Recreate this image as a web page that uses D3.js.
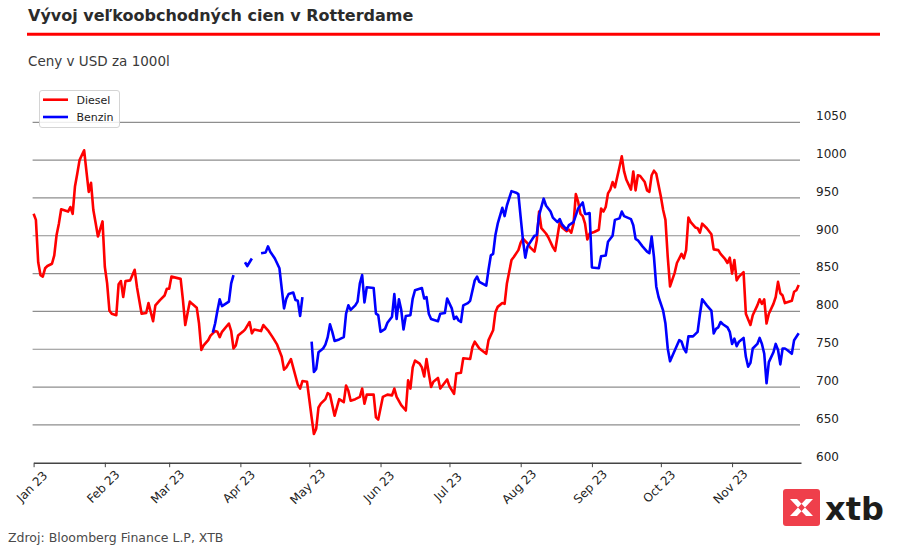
<!DOCTYPE html>
<html>
<head>
<meta charset="utf-8">
<script src="https://cdn.jsdelivr.net/npm/d3@7"></script>
<style>
  body { margin: 0; background: #fff; }
  svg { display: block; font-family: "DejaVu Sans", sans-serif; }
</style>
</head>
<body>
<div id="chart"></div>
<script>
// day of year 2023 (1 = 1 Jan), price in USD per 1000 l
const dieselDay = [1,2,3,4,5,6,7,9,10,11,12,13,15,16,17,18,19,20,21,23,24,25,26,27,28,29,31,32,33,34,35,37,38,39,40,41,43,45,46,48,50,51,53,54,56,58,59,60,61,65,66,67,69,70,72,73,74,75,77,78,80,81,82,83,86,87,88,89,90,92,93,95,96,97,100,101,103,105,107,109,110,111,113,116,117,118,120,122,123,124,125,126,128,129,130,132,133,134,136,137,138,139,141,143,144,145,146,149,150,151,153,155,157,158,159,161,163,164,165,166,167,169,170,171,172,173,174,175,177,178,181,182,184,185,187,188,191,192,193,195,198,199,201,202,203,205,206,207,209,210,212,213,214,216,217,219,220,221,222,224,225,227,228,229,230,231,233,234,235,236,237,238,239,240,241,242,243,245,247,248,249,250,251,252,253,254,256,257,258,259,261,262,263,264,265,267,268,269,270,271,272,274,275,276,277,278,280,281,283,284,285,286,287,289,290,291,292,294,296,297,299,300,302,303,304,305,306,307,308,310,311,313,314,316,317,318,319,320,321,323,324,325,326,327,328,331,332,333,334];
const dieselPrice = [929,921,865,848,846,857,860,863,874,901,916,935,933,932,938,929,965,982,1000,1013,985,958,970,934,917,899,919,859,837,801,797,795,836,840,819,840,841,855,832,797,798,811,787,808,815,821,830,830,846,843,815,782,813,810,805,784,749,755,762,768,774,773,766,773,784,774,751,755,768,773,776,786,771,776,774,782,775,766,756,740,723,726,737,703,698,708,707,660,638,645,673,678,684,692,690,662,673,684,680,702,695,682,684,687,698,678,690,690,660,657,687,690,689,698,687,676,669,709,698,726,735,731,726,714,737,718,700,707,712,698,710,701,691,718,719,738,737,753,760,751,744,762,775,799,806,811,810,837,868,872,881,891,896,890,885,879,894,932,910,903,898,885,880,899,918,911,906,908,904,916,955,945,929,926,916,895,903,905,908,936,932,938,956,961,971,964,991,1005,985,974,961,985,960,980,979,971,960,958,980,986,982,952,934,921,872,833,851,864,876,870,881,924,918,911,910,904,916,910,902,882,881,876,869,864,871,850,868,841,846,852,797,782,795,808,816,810,816,784,797,810,819,839,824,821,811,814,826,828,835];

// null = no quote, the line breaks there
const benzinDay = [79,80,81,82,83,86,87,88,90,93,94,96,98,100,102,103,104,106,108,109,110,111,112,114,115,116,117,118,120,122,123,124,125,127,128,129,130,131,132,134,136,137,138,139,141,142,143,144,145,146,149,150,151,152,154,155,157,158,159,160,161,162,163,165,166,167,170,171,172,173,174,177,178,180,181,183,184,185,186,187,188,190,191,193,194,195,198,199,200,201,202,203,205,206,207,209,211,212,213,214,215,216,219,220,221,223,224,226,227,229,230,231,233,234,236,237,238,240,241,242,243,244,247,248,250,251,252,253,254,256,257,258,261,262,263,264,266,268,269,270,271,272,273,275,276,277,278,279,282,283,284,285,286,288,290,291,292,294,296,297,298,299,300,301,303,304,305,306,307,308,310,311,312,313,314,316,317,318,319,320,321,323,324,325,326,327,328,329,331,332,334];
const benzinPrice = [772,784,801,816,807,813,837,848,null,865,860,870,null,877,878,886,879,870,857,830,804,817,823,825,815,814,794,819,null,760,720,724,746,751,756,766,783,773,761,763,766,797,808,802,808,813,837,848,812,832,831,797,795,773,777,785,793,823,790,816,802,776,794,795,817,828,831,817,819,797,790,787,797,798,817,804,790,793,788,786,808,811,814,841,846,839,834,855,874,876,901,916,937,926,940,959,957,955,924,894,871,886,900,901,927,949,940,932,924,918,922,915,908,914,918,927,936,944,929,929,930,858,857,873,874,892,896,900,921,923,932,926,922,914,896,894,886,879,877,899,872,833,819,801,784,751,734,741,762,760,751,746,767,767,773,796,816,808,801,771,777,779,786,783,779,773,757,764,754,760,765,740,727,732,751,757,765,757,744,705,733,746,757,749,730,751,751,749,744,762,771];

const yTicks = [600, 650, 700, 750, 800, 850, 900, 950, 1000, 1050];
const seriesNames = ["Diesel", "Benzin"];
const seriesColors = ["#ff0000", "#0000ff"];

const W = 909, H = 552;
const PLOT = { LEFT: 33.6, RIGHT: 801, TOP: 122.3, BOTTOM: 462.7 };

const toDate = d => new Date(2023, 0, d);
const diesel = dieselDay.map((d, i) => ({ date: toDate(d), value: dieselPrice[i] }));
const benzin = benzinDay.map((d, i) => ({ date: toDate(d), value: benzinPrice[i] }));

const svg = d3.select("#chart")
  .append("svg")
    .attr("width", W)
    .attr("height", H);

// header
svg.append("text")
    .attr("x", 28)
    .attr("y", 21)
    .attr("font-size", 16)
    .attr("font-weight", "bold")
    .attr("fill", "#2b2b2b")
    .text("Vývoj veľkoobchodných cien v Rotterdame");

svg.append("line")
    .attr("x1", 27).attr("x2", 880)
    .attr("y1", 34.3).attr("y2", 34.3)
    .attr("stroke", "#f00")
    .attr("stroke-width", 3);

svg.append("text")
    .attr("x", 28)
    .attr("y", 66)
    .attr("font-size", 13.5)
    .attr("fill", "#3a3a3a")
    .text("Ceny v USD za 1000l");

const x = d3.scaleTime()
  .domain([new Date(2023, 0, 1), new Date(2023, 11, 1)])
  .range([PLOT.LEFT, PLOT.RIGHT]);

const y = d3.scaleLinear()
  .domain([600, 1050])
  .range([PLOT.BOTTOM, PLOT.TOP]);

// grid
svg.append("g")
  .selectAll("line")
  .data(yTicks.filter(t => t > 600))
  .join("line")
    .attr("x1", PLOT.LEFT - 1).attr("x2", PLOT.RIGHT - 1)
    .attr("y1", d => y(d)).attr("y2", d => y(d))
    .attr("stroke", "#8e8e8e")
    .attr("stroke-width", 1.2);

// y labels on the right
const yAxis = d3.axisRight(y)
  .tickValues(yTicks)
  .tickFormat(d3.format("d"))
  .tickSize(0)
  .tickPadding(15);
const yAxisGroup = svg.append("g")
    .attr("transform", `translate(${PLOT.RIGHT}, 0)`)
    .call(yAxis);
yAxisGroup.select(".domain").remove();
yAxisGroup.selectAll("text")
    .attr("dy", "-0.22em")
    .attr("font-size", 12)
    .attr("font-family", "DejaVu Sans")
    .attr("fill", "#222");

// x axis
const months = d3.timeMonth.range(new Date(2023, 0, 1), new Date(2023, 11, 1));
const xAxis = d3.axisBottom(x)
  .tickValues(months)
  .tickFormat(d3.timeFormat("%b %y"))
  .tickSize(4.5)
  .tickSizeOuter(0);
const xAxisGroup = svg.append("g")
    .attr("transform", `translate(0, ${PLOT.BOTTOM})`)
    .call(xAxis);
xAxisGroup.select(".domain").attr("stroke", "#444").attr("stroke-width", 1.4);
xAxisGroup.selectAll(".tick line").attr("stroke", "#444").attr("stroke-width", 1);
xAxisGroup.selectAll("text")
    .attr("x", 0).attr("y", 0).attr("dy", null)
    .attr("text-anchor", "middle")
    .attr("dominant-baseline", "central")
    .attr("transform", "translate(-2, 24) rotate(-45)")
    .attr("font-size", 12)
    .attr("font-family", "DejaVu Sans")
    .attr("fill", "#222");

// lines
const line = d3.line()
  .defined(d => d.value !== null)
  .x(d => x(d.date))
  .y(d => y(d.value));

[diesel, benzin].forEach((data, i) => {
  svg.append("path")
      .datum(data)
      .attr("d", line)
      .attr("fill", "none")
      .attr("stroke", seriesColors[i])
      .attr("stroke-width", 2.6)
      .attr("stroke-linejoin", "round");
});

// legend
const legend = svg.append("g").attr("transform", "translate(39.5, 90.5)");
legend.append("rect")
    .attr("width", 80).attr("height", 37)
    .attr("rx", 2.5)
    .attr("fill", "#fff")
    .attr("fill-opacity", 0.85)
    .attr("stroke", "#d4d4d4");
seriesNames.forEach((name, i) => {
  const ly = 9.2 + i * 17.3;
  legend.append("line")
      .attr("x1", 3.5).attr("x2", 28.5)
      .attr("y1", ly).attr("y2", ly)
      .attr("stroke", seriesColors[i])
      .attr("stroke-width", 2.6);
  legend.append("text")
      .attr("x", 37).attr("y", ly + 4)
      .attr("font-size", 11)
      .attr("fill", "#222")
      .text(name);
});

// footer
svg.append("text")
    .attr("x", 8)
    .attr("y", 542)
    .attr("font-size", 12.5)
    .attr("fill", "#4a4a4a")
    .text("Zdroj: Bloomberg Finance L.P, XTB");

// xtb logo
const logo = svg.append("g").attr("transform", "translate(783, 489)");
logo.append("rect")
    .attr("width", 37).attr("height", 37)
    .attr("rx", 3)
    .attr("fill", "#ef3f4b");
logo.append("path")
    .attr("d", "M7,10 L14,10 L30,27 L23,27 Z M30,10 L23,10 L7,27 L14,27 Z")
    .attr("fill", "#fff");
svg.append("text")
    .attr("x", 825)
    .attr("y", 520)
    .attr("font-size", 32)
    .attr("font-weight", "bold")
    .attr("fill", "#1d1d1b")
    .text("xtb");
</script>
</body>
</html>
